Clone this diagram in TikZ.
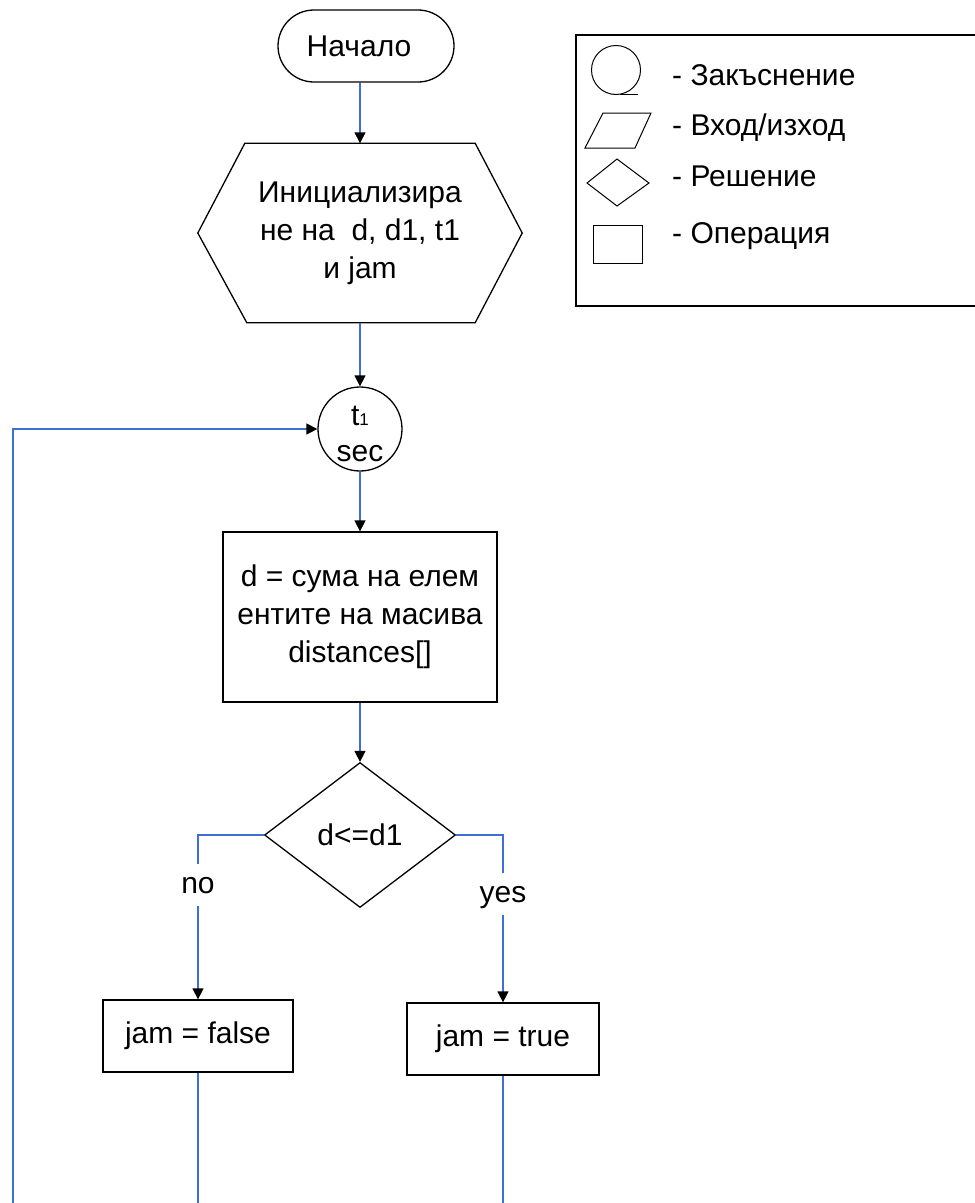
\documentclass[tikz,border=0pt]{standalone}
\usepackage{fontspec}
\setmainfont{Liberation Sans}
\usetikzlibrary{arrows.meta,shapes.geometric,calc}
\definecolor{flowblue}{RGB}{62,110,215}
\tikzset{
  shape line/.style={draw=black, line width=1.3pt},
  icon line/.style={draw=black, line width=1pt},
  flow/.style={draw=flowblue, line width=1.4pt, -{Triangle[length=11pt,width=11pt,color=black]}},
  plain flow/.style={draw=flowblue, line width=1.4pt},
  proc/.style={shape line, rectangle, inner sep=0pt, align=center},
  branch label/.style={fill=white, text height=22pt, text depth=6pt, inner xsep=2pt, inner ysep=7pt, anchor=base},
  legend text/.style={anchor=base west, inner sep=0pt},
}
\begin{document}
\begin{tikzpicture}[x=1pt, y=-1pt, font=\fontsize{30}{38}\selectfont]
\clip (0,0) rectangle (975,1203);
\fill[white] (0,0) rectangle (975,1203);

% terminal
\node[shape line, rounded corners=36pt, minimum width=176pt, minimum height=72pt, inner sep=0pt]
  (start) at (366,46) {Начало\hspace*{14pt}};

% initialisation (hexagon drawn around an invisible text node)
\node[minimum width=324pt, minimum height=179pt, inner sep=0pt, align=center]
  (init) at (360,233) {Инициализира\\не на\ \ d, d1, t1\\и jam};
\draw[shape line] ($(init.north west)+(47,0)$) -- ($(init.north east)+(-47,0)$) -- (init.east)
  -- ($(init.south east)+(-47,0)$) -- ($(init.south west)+(49,0)$) -- (init.west) -- cycle;

% delay
\node[shape line, circle, minimum size=84pt, inner sep=0pt, align=center, font=\fontsize{30}{36}\selectfont]
  (wait) at (360,429) {\rule{0pt}{30pt}t{\fontsize{17}{17}\selectfont 1}\\sec};

% summation
\node[proc, minimum width=274pt, minimum height=170pt]
  (sum) at (360,617) {d = сума на елем\\ентите на масива\\distances[]};

% decision
\node[shape line, diamond, minimum width=191pt, minimum height=145pt, inner sep=0pt]
  (test) at (360,835) {d<=d1};

% outcomes
\node[proc, minimum width=190pt, minimum height=72pt] (nobox) at (198,1036) {jam = false};
\node[proc, minimum width=192pt, minimum height=72pt] (yesbox) at (503,1039) {jam = true};

% connectors
\coordinate (bottom) at (0,1210);
\coordinate (loopbase) at (13,1210);
\draw[flow] (start.south -| init.north) -- (init.north);
\draw[flow] (init.south) -- (wait.north);
\draw[flow] (wait.south) -- (sum.north);
\draw[flow] (sum.south) -- (test.north);
\draw[flow] (test.west) -| (nobox.north);
\draw[flow] (test.east) -| (yesbox.north);
\draw[plain flow] (nobox.south) -- (nobox.south |- bottom);
\draw[plain flow] (yesbox.south) -- (yesbox.south |- bottom);
\draw[flow] (loopbase) |- (wait.west);

\node[branch label] (nolabel) at (198,893) {no};
\node[branch label] (yeslabel) at (503,902) {yes};

% legend
\node[draw=black, line width=1.5pt, anchor=north west, minimum width=420pt, minimum height=271pt, inner sep=0pt]
  (legend) at (575,34) {};
\draw[icon line] (616,70) circle[radius=24.5pt];
\draw[icon line] (620,94.5) -- (638,94.5);
\draw[icon line] (603,113) -- (651,113) -- (635,148) -- (585,148) -- cycle;
\draw[icon line] (587,183) -- (617,159) -- (649,183) -- (617,206) -- cycle;
\draw[icon line] (593,225) rectangle (642,263);
\node[legend text] (legdelay) at (672,85) {- Закъснение};
\node[legend text] (legio) at (672,135) {- Вход/изход};
\node[legend text] (legdecision) at (672,186) {- Решение};
\node[legend text] (legprocess) at (672,243) {- Операция};
\end{tikzpicture}
\end{document}
